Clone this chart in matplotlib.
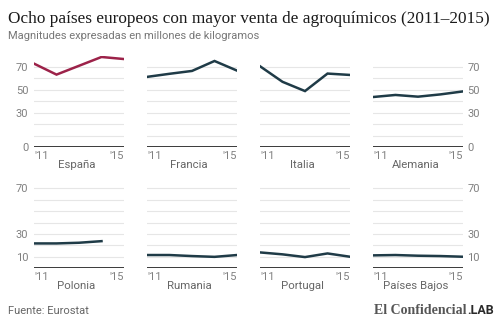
import matplotlib
matplotlib.use("Agg")
import matplotlib.pyplot as plt

# Pesticide sales, millions of kg, 2011-2015
years = [2011, 2012, 2013, 2014, 2015]
countries = ["España", "Francia", "Italia", "Alemania",
             "Polonia", "Rumania", "Portugal", "Países Bajos"]
espana = [72.9, 63.3, 71.0, 78.7, 76.9]
francia = [61.3, 64.0, 66.5, 75.2, 66.8]
italia = [70.6, 57.0, 48.9, 64.2, 63.0]
alemania = [43.7, 45.5, 44.0, 46.0, 48.6]
polonia = [21.6, 21.6, 22.2, 23.6, None]
rumania = [11.4, 11.4, 10.5, 9.8, 11.4]
portugal = [13.7, 12.0, 9.6, 12.8, 9.9]
paises_bajos = [11.1, 11.4, 10.8, 10.5, 9.9]
series = [espana, francia, italia, alemania,
          polonia, rumania, portugal, paises_bajos]

top_ticks = [0, 30, 50, 70]
bottom_ticks = [10, 30, 70]
x_labels = ["'11", "'15"]

title = "Ocho países europeos con mayor venta de agroquímicos (2011–2015)"
subtitle = "Magnitudes expresadas en millones de kilogramos"
source = "Fuente: Eurostat"

plt.rcParams["font.family"] = ["Roboto", "DejaVu Sans"]

RED = "#9c2249"
DARK = "#1f3b47"
GRID = "#e6e6e6"
AXIS = "#3a3a3a"
TEXT = "#808080"

W, H = 502, 330
fig = plt.figure(figsize=(W / 100, H / 100), dpi=100)
fig.patch.set_facecolor("white")

lefts = [34, 147, 260, 373]
width = 90
rows = [(147, 91.5), (268, 91.0)]  # (baseline px, height px)

for i, (name, vals) in enumerate(zip(countries, series)):
    r, c = divmod(i, 4)
    base, h = rows[r]
    ax = fig.add_axes([lefts[c] / W, (H - base) / H, width / W, h / H])
    xs = [k for k, v in enumerate(vals) if v is not None]
    ys = [v for v in vals if v is not None]
    ax.plot(xs, ys, color=RED if i == 0 else DARK, lw=1.8,
            solid_joinstyle="miter", zorder=3)
    ax.set_xlim(0, 4)
    ax.set_ylim(0, 80)
    for g in range(10, 80, 10):
        ax.axhline(g, color=GRID, lw=0.8, zorder=1)
    ax.axhline(0, color=AXIS, lw=1.4, zorder=2)
    for s in ax.spines.values():
        s.set_visible(False)
    ax.set_xticks([])
    ticks = top_ticks if r == 0 else bottom_ticks
    if c == 0:
        ax.set_yticks(ticks)
        ax.tick_params(axis="y", length=0, pad=4, labelsize=8,
                       labelcolor=TEXT)
    elif c == 3:
        ax.yaxis.tick_right()
        ax.set_yticks(ticks)
        ax.tick_params(axis="y", length=0, pad=3, labelsize=8,
                       labelcolor=TEXT, left=False, labelleft=False,
                       right=False, labelright=True)
    else:
        ax.set_yticks([])
    ax.set_facecolor("none")
    ax.annotate(x_labels[0], xy=(0, 0), xycoords="axes fraction",
                xytext=(0, -3), textcoords="offset points",
                ha="left", va="top", fontsize=8, color=TEXT)
    ax.annotate(x_labels[1], xy=(1, 0), xycoords="axes fraction",
                xytext=(0, -3), textcoords="offset points",
                ha="right", va="top", fontsize=8, color=TEXT)
    ax.annotate(name, xy=(0.47, 0), xycoords="axes fraction",
                xytext=(0, -9.5), textcoords="offset points",
                ha="center", va="top", fontsize=8.2, color="#666666")

# Title scaled to span the header width
t = fig.text(8 / W, 1 - 19 / H, title, family="Liberation Serif",
             fontsize=13, color="#1a1a1a", ha="left", va="center")
renderer = fig.canvas.get_renderer()
tw = t.get_window_extent(renderer).width
t.set_fontsize(13 * 479 / tw)

fig.text(8 / W, 1 - 36 / H, subtitle, fontsize=8, color="#777777",
         ha="left", va="center")
fig.text(8 / W, 1 - 311 / H, source, fontsize=8, color="#666666",
         ha="left", va="center")

fig.text(467 / W, 1 - 311 / H, "El Confidencial", family="Liberation Serif",
         fontsize=10, fontweight="bold", color="#555555",
         ha="right", va="center")
fig.text(467 / W, 1 - 311 / H, ".LAB", fontsize=9, fontweight="bold",
         color="#2a2a2a", ha="left", va="center")

fig.savefig("out.png", dpi=100, facecolor="white")
